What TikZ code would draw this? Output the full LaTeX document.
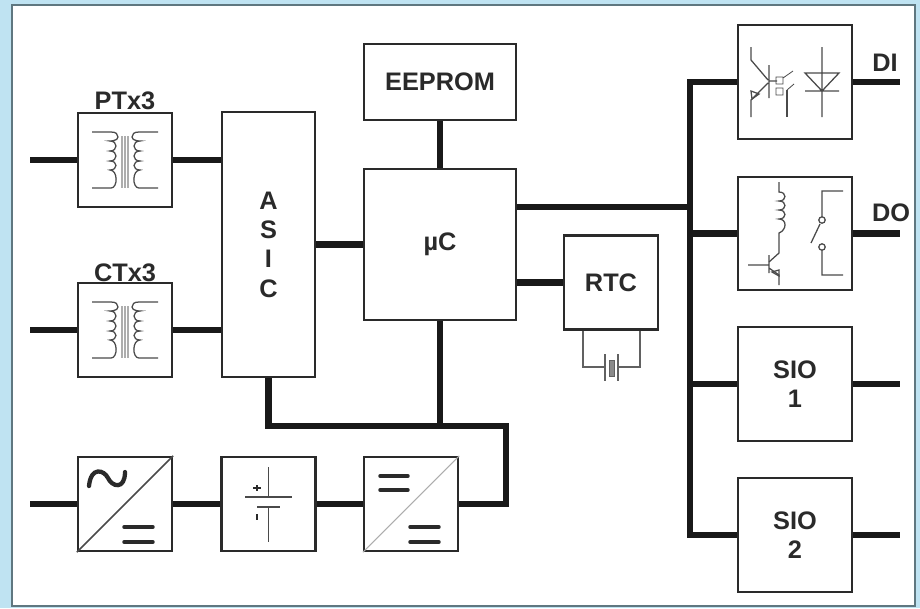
\documentclass[tikz,border=0pt]{standalone}
\usepackage{fontspec}
\setmainfont{Liberation Sans}
\definecolor{frameblue}{HTML}{BFE3F2}
\definecolor{framegrey}{HTML}{5F7780}
\definecolor{ink}{HTML}{2A2A2A}
\definecolor{soft}{HTML}{8A8A8A}
\newcommand{\xfmr}[2]{%
\begin{scope}[shift={(#1,#2)},sym]
\draw[soft!70] (-3,-24) -- (-3,28) (0,-24) -- (0,28) (3,-24) -- (3,28);
\draw (-33,-28) -- (-14,-28) .. controls (-9,-28) and (-7,-26) .. (-7,-23)
  .. controls (-7,-19) and (-15,-19) .. (-15,-19) .. controls (-7,-19) and (-7,-9) .. (-15,-9)
  .. controls (-7,-9) and (-7,1) .. (-15,1) .. controls (-7,1) and (-7,10) .. (-15,10)
  .. controls (-7,10) and (-7,28) .. (-14,28) -- (-33,28);
\draw (33,-28) -- (14,-28) .. controls (9,-28) and (7,-26) .. (7,-23)
  .. controls (7,-19) and (15,-19) .. (15,-19) .. controls (7,-19) and (7,-9) .. (15,-9)
  .. controls (7,-9) and (7,1) .. (15,1) .. controls (7,1) and (7,10) .. (15,10)
  .. controls (7,10) and (7,28) .. (14,28) -- (33,28);
\end{scope}}
\begin{document}
\begin{tikzpicture}[x=0.75pt,y=-0.75pt,
  panel/.style={draw=ink,line width=1.7pt,fill=white,inner sep=0pt,font=\fontsize{19}{22}\selectfont\bfseries,text=ink,align=center},
  box94/.style={panel,minimum width=70.5pt,minimum height=70.5pt},
  box114/.style={panel,minimum width=85.5pt,minimum height=85pt},
  bus/.style={draw=black!90,line width=5pt},
  sym/.style={draw=ink!85,line width=.95pt},
  heavy/.style={draw=ink,line width=2.6pt,line cap=round},
  label/.style={inner sep=0pt,font=\fontsize{19}{22}\selectfont\bfseries,text=ink}]
\useasboundingbox (0,0) rectangle (920,608);
\fill[frameblue] (0,0) rectangle (920,608);
\draw[framegrey,line width=2pt,fill=white] (12,5) rectangle (915,606);
% boxes
\node[box94] (pt) at (125,160) {};
\node[box94] (ct) at (125,330) {};
\node[panel,minimum width=70pt,minimum height=199pt] (asic) at (268.5,244.5) {A\\S\\I\\C};
\node[panel,minimum width=114pt,minimum height=57pt] (eeprom) at (440,82) {EEPROM};
\node[panel,minimum width=114pt,minimum height=113pt] (uc) at (440,244.5) {µC};
\node[box94] (rtc) at (611,282.5) {RTC};
\node[box114] (di) at (795,82) {};
\node[box114] (do) at (795,233.5) {};
\node[box114] (sio1) at (795,384) {SIO\\1};
\node[box114] (sio2) at (795,535) {SIO\\2};
\node[box94] (acdc) at (125,504) {};
\node[box94] (batt) at (268.5,504) {};
\node[box94] (dcdc) at (411,504) {};
% labels
\node[label] (ptl) at (125,101) {PTx3};
\node[label] (ctl) at (125,273) {CTx3};
\node[label] (dil) at (885,63) {DI};
\node[label] (dol) at (891,213) {DO};
% free ends and junctions
\coordinate (ptin) at (30,160);
\coordinate (ctin) at (30,330);
\coordinate (acin) at (30,504);
\coordinate (ditap) at (690,82);
\coordinate (dotap) at (690,233.5);
\coordinate (s1tap) at (690,384);
\coordinate (s2tap) at (690,535);
\coordinate (ucout) at (690,207);
\coordinate (diout) at (900,82);
\coordinate (doout) at (900,233.5);
\coordinate (s1out) at (900,384);
\coordinate (s2out) at (900,535);
\coordinate (jasic) at (268.5,426);
\coordinate (juc) at (440,426);
\coordinate (jright) at (506,426);
\coordinate (jdown) at (506,504);
% connectors
\draw[bus] (ptin) -- (pt.west);
\draw[bus] (pt.east) -- (pt.east -| asic.west);
\draw[bus] (ctin) -- (ct.west);
\draw[bus] (ct.east) -- (ct.east -| asic.west);
\draw[bus] (acin) -- (acdc.west);
\draw[bus] (acdc.east) -- (batt.west);
\draw[bus] (batt.east) -- (dcdc.west);
\draw[bus] (asic.south) -- (jasic) -- (jright) -- (jdown) -- (dcdc.east);
\draw[bus] (uc.south) -- (juc);
\draw[bus] (eeprom.south) -- (uc.north);
\draw[bus] (asic.east) -- (uc.west);
\draw[bus] (ucout -| uc.east) -- (ucout);
\draw[bus] (rtc.west -| uc.east) -- (rtc.west);
\draw[bus] (di.west) -- (ditap) -- (s2tap) -- (sio2.west);
\draw[bus] (dotap) -- (do.west);
\draw[bus] (s1tap) -- (sio1.west);
\draw[bus] (di.east) -- (diout);
\draw[bus] (do.east) -- (doout);
\draw[bus] (sio1.east) -- (s1out);
\draw[bus] (sio2.east) -- (s2out);
% transformers
\xfmr{125}{160}
\xfmr{125}{330}
% AC/DC
\draw[sym,line width=1.2pt] (acdc.south west) -- (acdc.north east);
\draw[line width=3.2pt,ink,line cap=round] (89,486) .. controls (91,466) and (104,470) .. (108,478) .. controls (112,487) and (125,490) .. (125,472);
\draw[heavy] (124,527) -- (153,527) (124,542) -- (153,542);
% battery
\draw[sym] (268.5,467) -- (268.5,497) (245,497) -- (292,497);
\draw[sym,line width=1.6pt] (257,507) -- (280,507);
\draw[sym] (268.5,507) -- (268.5,542);
\draw[ink,line width=1.2pt] (253,488) -- (261,488) (257,485) -- (257,491) (257,514) -- (257,520);
% DC/DC
\draw[soft!70,line width=.8pt] (dcdc.south west) -- (dcdc.north east);
\draw[heavy] (380,476) -- (408,476) (380,490) -- (408,490) (410,527) -- (439,527) (410,542) -- (439,542);
% opto coupler
\draw[sym] (751,47) -- (751,60) -- (768,80) (769,65) -- (769,98) (769,81) -- (777,81) (768,83) -- (751,100) -- (751,117);
\draw[sym] (752,99) -- (751,91) -- (759,94) -- cycle;
\draw[sym,line width=.6pt] (776,77) rectangle (783,84) (776,88) rectangle (783,95) (783,78) -- (793,71) (787,90) -- (794,84);
\draw[sym] (787,90) -- (787,117);
\draw[sym] (805,73) -- (839,73) -- (822,91) -- cycle (805,91) -- (839,91) (822,47) -- (822,117);
% relay
\draw[sym] (779,182) -- (779,192) .. controls (787,192) and (787,201) .. (779,201) .. controls (787,201) and (787,210) .. (779,210) .. controls (787,210) and (787,219) .. (779,219) .. controls (787,219) and (787,230) .. (779,233) -- (779,253) -- (769,262);
\draw[sym] (748,265) -- (769,265) (769,255) -- (769,273) (769,268) -- (779,275) -- (779,285);
\draw[sym] (772,272) -- (779,270) -- (779,276) -- cycle;
\draw[sym] (843,191) -- (822,191) -- (822,216) (822,220) circle[radius=3.2] (811,243) -- (820,224) (822,247) circle[radius=3.2] (822,250) -- (822,275) -- (843,275);
% crystal
\coordinate (xl) at (583,367);
\coordinate (xr) at (640,367);
\draw[sym,line width=1.2pt,soft!70!black] (rtc.south -| xl) -- (xl) -- (604,367) (605,354) -- (605,381) (618,354) -- (618,381) (619,367) -- (xr) -- (rtc.south -| xr);
\draw[soft!70!black,fill=soft,line width=.6pt] (609,360) rectangle (614,376);
\end{tikzpicture}
\end{document}
